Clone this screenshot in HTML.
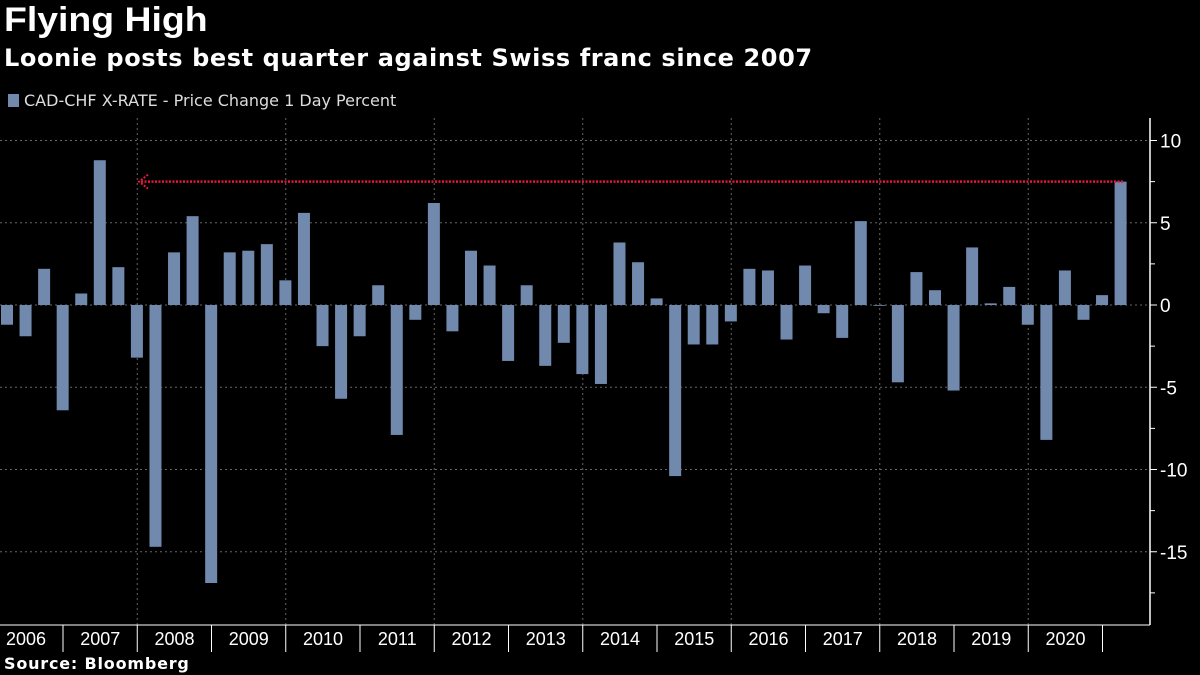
<!DOCTYPE html>
<html><head><meta charset="utf-8"><style>
body{margin:0;background:#000;width:1200px;height:675px;overflow:hidden;font-family:"DejaVu Sans",sans-serif;color:#fff}
.t{position:absolute;left:4px;white-space:nowrap}
</style></head><body>
<div class="t" style="top:1px;font-size:34px;font-weight:bold;font-family:'Liberation Sans',sans-serif;transform:scaleX(1.1);transform-origin:left">Flying High</div>
<div class="t" style="top:44px;font-size:24px;font-weight:bold;letter-spacing:0.6px">Loonie posts best quarter against Swiss franc since 2007</div>
<div class="t" style="top:91px;font-size:16px;color:#ddd;left:8px"><span style="display:inline-block;width:11px;height:13px;background:#7089ad;margin-right:5px;vertical-align:-1px"></span>CAD-CHF X-RATE - Price Change 1 Day Percent</div>
<div class="t" style="top:654px;font-size:16px;font-weight:bold;letter-spacing:0.8px">Source: Bloomberg</div>
<svg id="c" width="1200" height="675" style="position:absolute;left:0;top:0"></svg>
<script>
const values=[-1.2,-1.9,2.2,-6.4, 0.7,8.8,2.3,-3.2, -14.7,3.2,5.4,-16.9, 3.2,3.3,3.7,1.5, 5.6,-2.5,-5.7,-1.9, 1.2,-7.9,-0.9,6.2, -1.6,3.3,2.4,-3.4, 1.2,-3.7,-2.3,-4.2, -4.8,3.8,2.6,0.4, -10.4,-2.4,-2.4,-1.0, 2.2,2.1,-2.1,2.4, -0.5,-2.0,5.1,-0.05, -4.7,2.0,0.9,-5.2, 3.5,0.1,1.1,-1.2, -8.2,2.1,-0.9,0.6, 7.5];
const years=["2006","2007","2008","2009","2010","2011","2012","2013","2014","2015","2016","2017","2018","2019","2020"];
const yTicks=[10,5,0,-5,-10,-15];
const refLevel=7.5;
const svg=document.getElementById('c');const NS='http://www.w3.org/2000/svg';
function y(v){return 305-v*16.45;}
function xq(i){return 7+i*18.56;}
function xy(k){return 63+k*74.25;}
function mk(t,a,p){const e=document.createElementNS(NS,t);for(const k in a)e.setAttribute(k,a[k]);(p||svg).appendChild(e);return e;}
yTicks.forEach(v=>{const l=mk('line',{x1:0,x2:1150,y1:y(v),y2:y(v),stroke:'#666','stroke-dasharray':'2,3'});
const t=mk('text',{x:1160,y:y(v)+7,fill:'#fff','font-size':19,'font-family':'Liberation Sans'});t.textContent=(v<0?'-':'')+Math.abs(v);
mk('line',{x1:1150,x2:1157,y1:y(v),y2:y(v),stroke:'#fff'});});
for(let k=1;k<years.length;k+=2){const l=mk('line',{x1:xy(k),x2:xy(k),y1:118,y2:625,stroke:'#666','stroke-dasharray':'2,3'});}
for(let v=-17.5;v<=10;v+=5){mk('line',{x1:1150,x2:1155,y1:y(v),y2:y(v),stroke:'#fff'});}
values.forEach((v,i)=>{const r=mk('rect',{x:xq(i)-6,y:Math.min(y(v),y(0)),width:12,height:Math.max(0.5,Math.abs(y(v)-y(0))),fill:'#7089ad'});});
const rl=mk('line',{x1:141,x2:xq(values.length-1)+4,y1:y(refLevel),y2:y(refLevel),stroke:'#e8173a','stroke-width':2.5,'stroke-dasharray':'2,1.5'});
const ar=mk('polyline',{points:`${148},${y(refLevel)-7} ${139},${y(refLevel)} ${148},${y(refLevel)+7}`,fill:'none',stroke:'#e8173a','stroke-width':2,'stroke-dasharray':'2,1.5'});
mk('line',{x1:1150,x2:1150,y1:118,y2:625,stroke:'#fff','stroke-width':1.5});
mk('line',{x1:0,x2:1150,y1:625,y2:625,stroke:'#fff'});
years.forEach((yr,k)=>{mk('line',{x1:xy(k),x2:xy(k),y1:625,y2:652,stroke:'#fff'});
const t=mk('text',{x:xy(k)-37,y:645,fill:'#fff','font-size':18,'font-family':'Liberation Sans','text-anchor':'middle'});t.textContent=yr;});
</script>
</body></html>
